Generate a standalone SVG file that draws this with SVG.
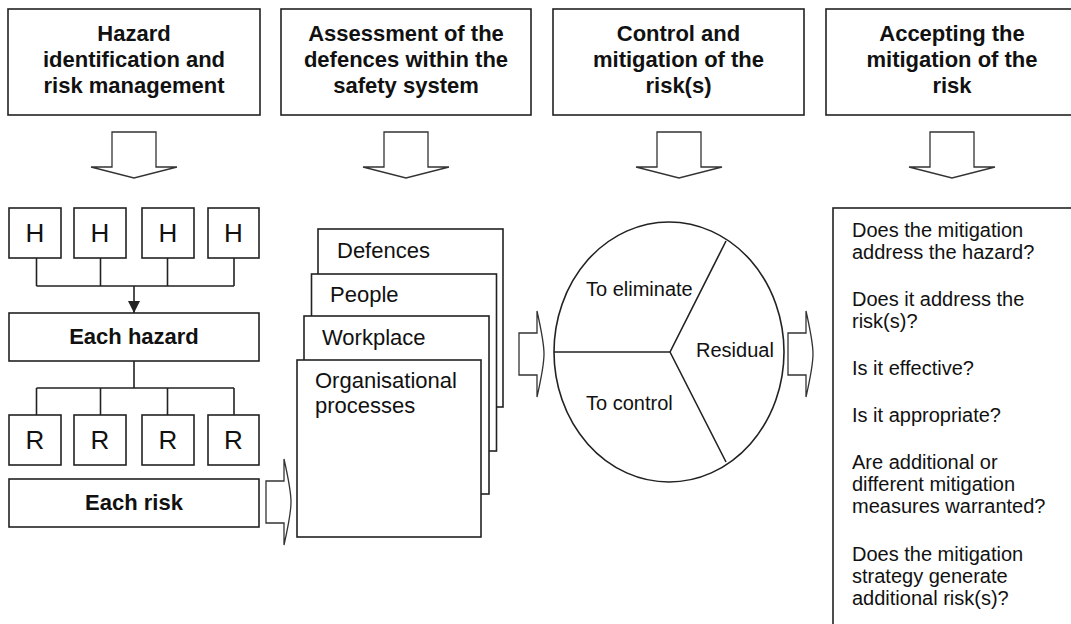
<svg xmlns="http://www.w3.org/2000/svg" width="1071" height="624" viewBox="0 0 1071 624">
<style>
.box{fill:#fff;stroke:#222;stroke-width:1.6}
.ln{fill:none;stroke:#222;stroke-width:1.6}
.blk{fill:#fff;stroke:#333;stroke-width:1.3;stroke-linejoin:miter}
.hd{font-family:"Liberation Sans",Arial,sans-serif;font-weight:bold;font-size:22px;fill:#111;text-anchor:middle}
.big{font-family:"Liberation Sans",Arial,sans-serif;font-size:26px;fill:#111;text-anchor:middle}
.t22{font-family:"Liberation Sans",Arial,sans-serif;font-size:22px;fill:#111}
.t20{font-family:"Liberation Sans",Arial,sans-serif;font-size:20px;fill:#111}
</style>
<defs>
<path id="darr" d="M-22,0 H22 V35 H43 L0,46 L-43,35 H-22 Z"/>
<path id="rarr" d="M0,-21 H18 V-43 Q25,-12 25,0 Q25,12 18,43 V21 H0 Z"/>
<marker id="tri" viewBox="0 0 12 12" refX="12" refY="6" markerWidth="12" markerHeight="12" markerUnits="userSpaceOnUse" orient="auto">
<path d="M0,0 L12,6 L0,12 Z" fill="#222"/>
</marker>
</defs>
<rect width="1071" height="624" fill="#fff"/>

<g id="head1"><rect class="box" x="8" y="9" width="252" height="106"/>
<text class="hd" x="134" y="41">Hazard</text><text class="hd" x="134" y="67">identification and</text><text class="hd" x="134" y="93">risk management</text></g>
<g id="head2"><rect class="box" x="281" y="9" width="250" height="106"/>
<text class="hd" x="406" y="41">Assessment of the</text><text class="hd" x="406" y="67">defences within the</text><text class="hd" x="406" y="93">safety system</text></g>
<g id="head3"><rect class="box" x="553" y="9" width="251" height="106"/>
<text class="hd" x="678.5" y="41">Control and</text><text class="hd" x="678.5" y="67">mitigation of the</text><text class="hd" x="678.5" y="93">risk(s)</text></g>
<g id="head4"><rect class="box" x="826" y="9" width="252" height="106"/>
<text class="hd" x="952" y="41">Accepting the</text><text class="hd" x="952" y="67">mitigation of the</text><text class="hd" x="952" y="93">risk</text></g>

<g id="h1"><rect class="box" x="9" y="208" width="52" height="50"/><text class="big" x="35" y="242">H</text></g>
<g id="h2"><rect class="box" x="74" y="208" width="52" height="50"/><text class="big" x="100" y="242">H</text></g>
<g id="h3"><rect class="box" x="142" y="208" width="52" height="50"/><text class="big" x="168" y="242">H</text></g>
<g id="h4"><rect class="box" x="208" y="208" width="51" height="50"/><text class="big" x="233.5" y="242">H</text></g>

<g id="eachHazard"><rect class="box" x="9" y="313" width="250" height="48"/><text class="hd" x="134" y="344">Each hazard</text></g>

<g id="r1"><rect class="box" x="9" y="415" width="52" height="50"/><text class="big" x="35" y="449">R</text></g>
<g id="r2"><rect class="box" x="74" y="415" width="52" height="50"/><text class="big" x="100" y="449">R</text></g>
<g id="r3"><rect class="box" x="142" y="415" width="52" height="50"/><text class="big" x="168" y="449">R</text></g>
<g id="r4"><rect class="box" x="208" y="415" width="51" height="50"/><text class="big" x="233.5" y="449">R</text></g>

<g id="eachRisk"><rect class="box" x="9" y="479" width="250" height="48"/><text class="hd" x="134" y="510">Each risk</text></g>

<g id="stack">
<g id="defences"><rect class="box" x="318" y="229" width="185" height="178"/><text class="t22" x="337" y="258">Defences</text></g>
<g id="people"><rect class="box" x="311.5" y="274" width="185" height="177"/><text class="t22" x="330" y="302">People</text></g>
<g id="workplace"><rect class="box" x="304" y="316" width="185" height="178"/><text class="t22" x="322" y="345">Workplace</text></g>
<g id="organisational"><rect class="box" x="297" y="360" width="184" height="177"/><text class="t22" x="315" y="388">Organisational</text><text class="t22" x="315" y="413">processes</text></g>
</g>

<g id="pie">
<ellipse class="box" cx="669" cy="352" rx="115" ry="130"/>
<path class="ln" d="M554,352 H670 L726,241 M670,352 L726,462"/>
<text class="t20" x="586" y="296">To eliminate</text>
<text class="t20" x="696" y="357">Residual</text>
<text class="t20" x="586" y="410">To control</text>
</g>

<g id="questions">
<rect class="box" x="833" y="208" width="250" height="430"/>
<text class="t20" x="852" y="237">Does the mitigation</text>
<text class="t20" x="852" y="259">address the hazard?</text>
<text class="t20" x="852" y="306">Does it address the</text>
<text class="t20" x="852" y="328">risk(s)?</text>
<text class="t20" x="852" y="375">Is it effective?</text>
<text class="t20" x="852" y="422">Is it appropriate?</text>
<text class="t20" x="852" y="469">Are additional or</text>
<text class="t20" x="852" y="491">different mitigation</text>
<text class="t20" x="852" y="513">measures warranted?</text>
<text class="t20" x="852" y="561">Does the mitigation</text>
<text class="t20" x="852" y="583">strategy generate</text>
<text class="t20" x="852" y="605">additional risk(s)?</text>
</g>

<g id="connectors">
<path class="ln" d="M36.5,258 V286 M100.5,258 V286 M167.5,258 V286 M234,258 V286 M36.5,286 H234"/>
<path class="ln" d="M134,286 V313" marker-end="url(#tri)"/>
<path class="ln" d="M134,361 V388 M36.5,388 H234 M36.5,388 V415 M100.5,388 V415 M167.5,388 V415 M234,388 V415"/>
<use href="#darr" class="blk" x="134" y="132"/>
<use href="#darr" class="blk" x="406" y="132"/>
<use href="#darr" class="blk" x="679" y="132"/>
<use href="#darr" class="blk" x="952" y="132"/>
<use href="#rarr" class="blk" x="266" y="502"/>
<use href="#rarr" class="blk" x="519" y="354"/>
<use href="#rarr" class="blk" x="788" y="354"/>
</g>
</svg>
